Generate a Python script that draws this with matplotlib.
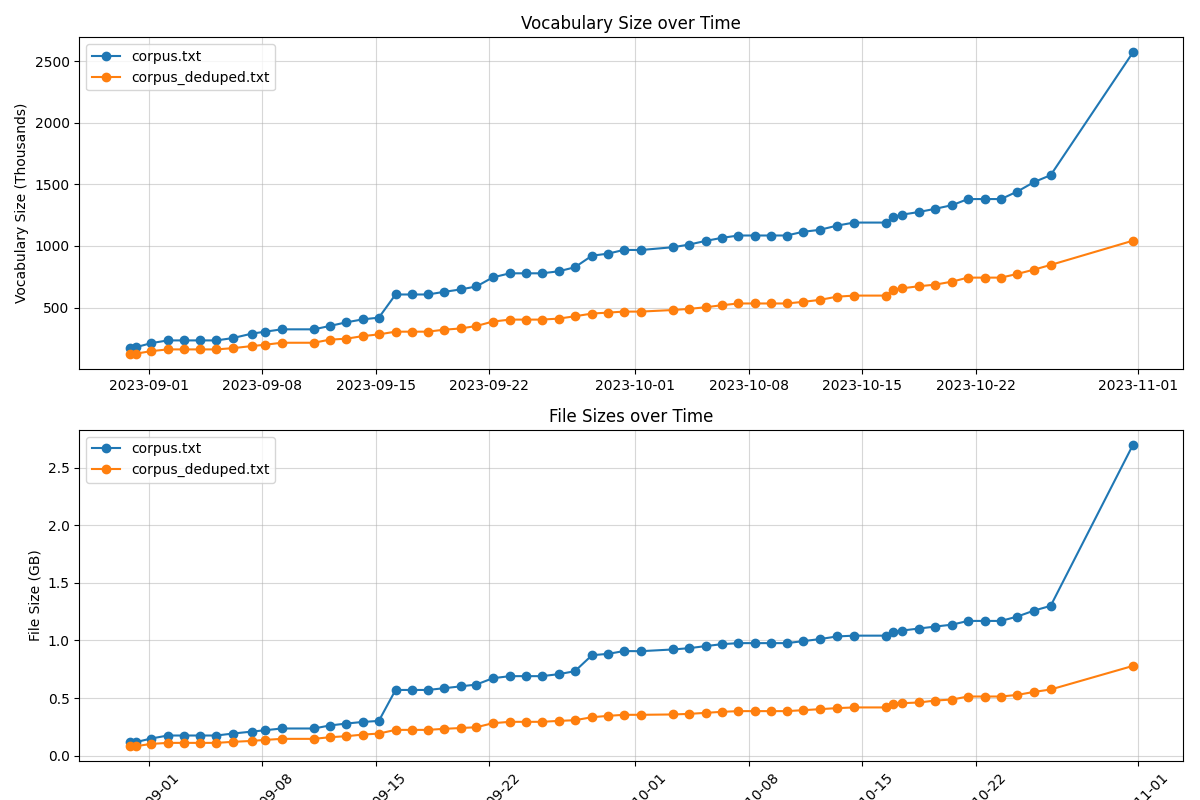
import pandas as pd
from matplotlib import pyplot as plt

timestamps = pd.to_datetime([
    '2023-08-30 19:30', '2023-08-31 04:20', '2023-09-01 03:36', '2023-09-02 04:00',
    '2023-09-03 04:00', '2023-09-04 04:00', '2023-09-05 04:00', '2023-09-06 04:20',
    '2023-09-07 08:24', '2023-09-08 04:20', '2023-09-09 04:50', '2023-09-11 04:20',
    '2023-09-12 03:36', '2023-09-13 04:20', '2023-09-14 04:50', '2023-09-15 04:30',
    '2023-09-16 05:15', '2023-09-17 05:15', '2023-09-18 05:00', '2023-09-19 04:50',
    '2023-09-20 05:30', '2023-09-21 04:50', '2023-09-22 05:15', '2023-09-23 06:30',
    '2023-09-24 06:15', '2023-09-25 05:45', '2023-09-26 06:30', '2023-09-27 06:40',
    '2023-09-28 08:00', '2023-09-29 08:10', '2023-09-30 07:12', '2023-10-01 08:24',
    '2023-10-03 08:00', '2023-10-04 07:30', '2023-10-05 08:10', '2023-10-06 08:24',
    '2023-10-07 08:40', '2023-10-08 08:50', '2023-10-09 08:24', '2023-10-10 08:10',
    '2023-10-11 08:24', '2023-10-12 09:10', '2023-10-13 10:30', '2023-10-14 11:45',
    '2023-10-16 11:45', '2023-10-16 21:36', '2023-10-17 10:50', '2023-10-18 12:00',
    '2023-10-19 12:15', '2023-10-20 13:30', '2023-10-21 12:30', '2023-10-22 13:10',
    '2023-10-23 13:30', '2023-10-24 13:40', '2023-10-25 14:24', '2023-10-26 15:00',
    '2023-10-31 16:48',
])

# vocabulary size in thousands
vocab_corpus = [
    174, 177, 211, 233, 233, 233, 233, 252, 288, 304, 323, 323, 350, 380, 404, 418,
    606, 606, 606, 627, 647, 671, 745, 778, 778, 778, 794, 827, 921, 938, 968, 967,
    990, 1011, 1041, 1066, 1085, 1085, 1085, 1085, 1115, 1131, 1165, 1190, 1190, 1235,
    1254, 1276, 1302, 1332, 1381, 1381, 1381, 1442, 1519, 1575, 2572,
]
vocab_deduped = [
    125, 125, 146, 160, 160, 160, 160, 170, 187, 198, 214, 214, 239, 247, 268, 282,
    304, 304, 304, 320, 330, 350, 386, 402, 402, 402, 410, 429, 451, 459, 467, 467,
    480, 489, 502, 519, 533, 533, 533, 533, 546, 562, 588, 597, 597, 646,
    656, 673, 686, 711, 743, 743, 743, 773, 808, 846, 1043,
]

# file size in GB
size_corpus = [
    0.116, 0.116, 0.148, 0.174, 0.174, 0.174, 0.174, 0.191, 0.208, 0.220, 0.235, 0.235,
    0.261, 0.278, 0.292, 0.301, 0.570, 0.570, 0.570, 0.585, 0.601, 0.617, 0.672, 0.690,
    0.690, 0.690, 0.707, 0.733, 0.872, 0.884, 0.908, 0.907, 0.922, 0.933, 0.951, 0.968,
    0.977, 0.977, 0.977, 0.977, 0.994, 1.012, 1.035, 1.042, 1.042, 1.075, 1.086, 1.104,
    1.121, 1.138, 1.170, 1.170, 1.170, 1.208, 1.260, 1.301, 2.700,
]
size_deduped = [
    0.081, 0.081, 0.101, 0.110, 0.110, 0.110, 0.110, 0.119, 0.127, 0.136, 0.145, 0.145,
    0.159, 0.168, 0.182, 0.191, 0.223, 0.223, 0.223, 0.232, 0.239, 0.246, 0.281, 0.293,
    0.293, 0.293, 0.301, 0.307, 0.333, 0.345, 0.354, 0.354, 0.357, 0.362, 0.371, 0.380,
    0.386, 0.386, 0.386, 0.386, 0.394, 0.403, 0.412, 0.418, 0.418, 0.452, 0.455, 0.461,
    0.478, 0.487, 0.513, 0.513, 0.513, 0.527, 0.553, 0.574, 0.779,
]

fig, (ax1, ax2) = plt.subplots(2, 1, figsize=(12, 8), dpi=100)

ax1.plot(timestamps, vocab_corpus, marker='o', label='corpus.txt')
ax1.plot(timestamps, vocab_deduped, marker='o', label='corpus_deduped.txt')
ax1.set_ylabel('Vocabulary Size (Thousands)')
ax1.set_title('Vocabulary Size over Time')
ax1.legend(loc='upper left')
ax1.grid(True, alpha=0.5)

ax2.plot(timestamps, size_corpus, marker='o', label='corpus.txt')
ax2.plot(timestamps, size_deduped, marker='o', label='corpus_deduped.txt')
ax2.set_ylabel('File Size (GB)')
ax2.set_title('File Sizes over Time')
ax2.legend(loc='upper left')
ax2.grid(True, alpha=0.5)

# layout done before rotating, so the rotated labels run off the bottom
plt.tight_layout()
plt.xticks(rotation=45)
plt.savefig('out.png')
